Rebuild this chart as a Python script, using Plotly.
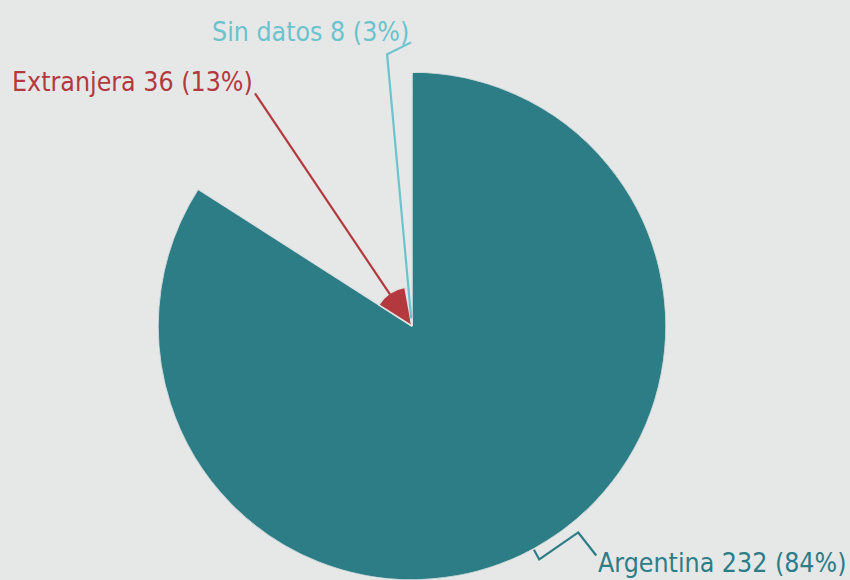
import math
import plotly.graph_objects as go

# ---- data ----
categories = ["Argentina", "Extranjera", "Sin datos"]
values = [232, 36, 8]
colors = ["#2d7d87", "#b4393f", "#6cc3ce"]

# ---- derived ----
total = sum(values)
pcts = [round(v / total * 100) for v in values]
widths = [v / total * 360 for v in values]
starts = []
acc = 0.0
for w in widths:
    starts.append(acc)
    acc += w
centers = [s + w / 2 for s, w in zip(starts, widths)]
rmax = max(values)

# ---- layout geometry (pixels) ----
W, H = 850, 580
CX, CY, R = 412, 327, 254
BG = "#e6e8e7"
FONT = "DejaVu Sans Condensed, Liberation Sans Narrow, sans-serif"
FS = 26.5


def to_px(rv, th, extra=0.0):
    d = rv / rmax * R + extra
    a = math.radians(th)
    return CX + d * math.sin(a), CY - d * math.cos(a)


def to_paper(x, y):
    return x / W, 1 - y / H


# leader style per slice: radial extension length (px beyond wedge edge),
# extra polyline offsets (px), label anchor side, label vertical shift (px)
leader_style = {
    "Argentina": dict(ext=11, extra=[(39, -27), (18, 23)], side="left", dy=7),
    "Extranjera": dict(ext=242, extra=[], side="right", dy=-12),
    "Sin datos": dict(ext=265, extra=[(24, -12)], side="right", dy=-11),
}

fig = go.Figure(
    go.Barpolar(
        r=values,
        theta=centers,
        width=widths,
        marker=dict(color=colors, line=dict(color="#dfe3e3", width=1.5)),
        hoverinfo="skip",
        showlegend=False,
    )
)

shapes = []
annotations = []
for cat, v, col, th, p in zip(categories, values, colors, centers, pcts):
    st = leader_style[cat]
    pts = [to_px(v, th), to_px(v, th, st["ext"])]
    for dx, dy in st["extra"]:
        x0, y0 = pts[-1]
        pts.append((x0 + dx, y0 + dy))
    path = ""
    for i, (x, y) in enumerate(pts):
        px_, py_ = to_paper(x, y)
        path += ("M" if i == 0 else " L") + f" {px_:.5f} {py_:.5f}"
    shapes.append(dict(type="path", xref="paper", yref="paper", path=path,
                       line=dict(color=col, width=2.2)))
    ex, ey = pts[-1]
    ax, ay = to_paper(ex, ey + st["dy"])
    annotations.append(dict(
        x=ax, y=ay, xref="paper", yref="paper",
        text=f"{cat} {v} ({p}%)", showarrow=False,
        xanchor=st["side"], yanchor="middle",
        font=dict(family=FONT, size=FS, color=col),
    ))

y_lo = max(0.0, (H - CY - R) / H)
fig.update_layout(
    width=W, height=H,
    margin=dict(l=0, r=0, t=0, b=0),
    paper_bgcolor=BG,
    plot_bgcolor=BG,
    polar=dict(
        domain=dict(x=[(CX - R) / W, (CX + R) / W], y=[y_lo, y_lo + 2 * R / H]),
        bgcolor="rgba(0,0,0,0)",
        radialaxis=dict(visible=False, range=[0, rmax]),
        angularaxis=dict(visible=False, rotation=90, direction="clockwise"),
        bargap=0,
    ),
    shapes=shapes,
    annotations=annotations,
)

fig.write_html(
    "out.html",
    config={"displayModeBar": False},
    post_script="document.body.style.margin='0';document.body.style.overflow='hidden';",
)
